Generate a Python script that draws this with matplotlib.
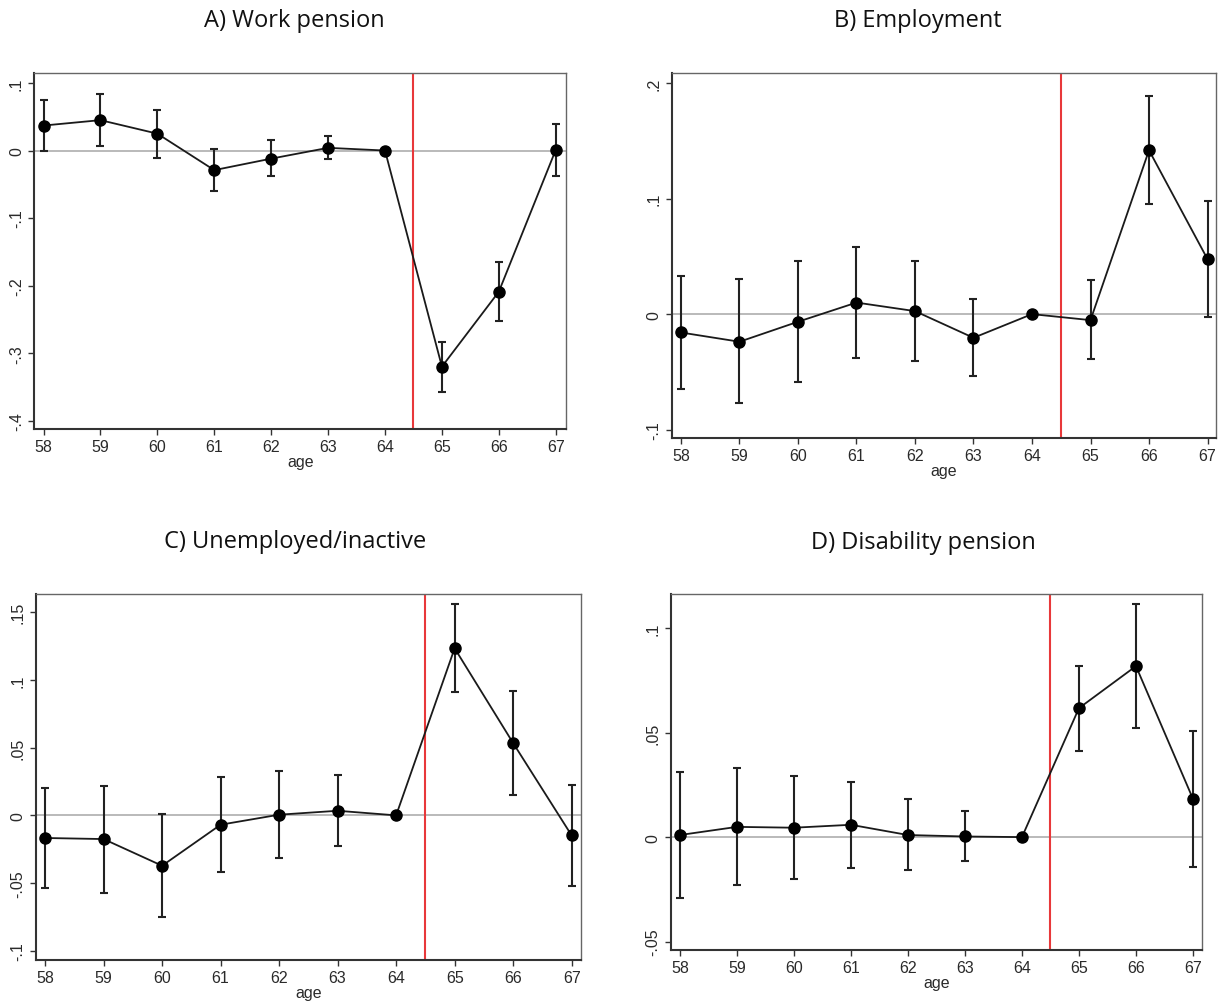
import matplotlib
matplotlib.use("Agg")
import matplotlib.pyplot as plt
import numpy as np

ages = [58, 59, 60, 61, 62, 63, 64, 65, 66, 67]

# A) Work pension
wp_est = [0.037, 0.045, 0.025, -0.029, -0.012, 0.004, 0.0, -0.320, -0.209, 0.001]
wp_hi = [0.075, 0.083, 0.060, 0.003, 0.015, 0.022, 0.0, -0.283, -0.165, 0.040]
wp_lo = [0.000, 0.006, -0.011, -0.060, -0.037, -0.013, 0.0, -0.357, -0.252, -0.038]

# B) Employment
em_est = [-0.0159, -0.0239, -0.0066, 0.0100, 0.0026, -0.0205, 0.0, -0.0052, 0.1418, 0.0476]
em_hi = [0.0334, 0.0300, 0.0460, 0.0585, 0.0464, 0.0135, 0.0, 0.0297, 0.1888, 0.0980]
em_lo = [-0.0648, -0.0772, -0.0590, -0.0380, -0.0406, -0.0539, 0.0, -0.0390, 0.0951, -0.0023]

# C) Unemployed/inactive
un_est = [-0.0167, -0.0175, -0.0372, -0.0069, 0.0005, 0.0034, 0.0, 0.1234, 0.0534, -0.0148]
un_hi = [0.0200, 0.0219, 0.0012, 0.0281, 0.0325, 0.0296, 0.0, 0.1562, 0.0921, 0.0222]
un_lo = [-0.0540, -0.0574, -0.0754, -0.0416, -0.0313, -0.0224, 0.0, 0.0909, 0.0150, -0.0520]

# D) Disability pension
di_est = [0.0010, 0.0049, 0.0045, 0.0059, 0.0010, 0.0003, 0.0, 0.0617, 0.0818, 0.0183]
di_hi = [0.0311, 0.0330, 0.0292, 0.0266, 0.0180, 0.0126, 0.0, 0.0819, 0.1117, 0.0510]
di_lo = [-0.0290, -0.0230, -0.0202, -0.0147, -0.0158, -0.0116, 0.0, 0.0411, 0.0521, -0.0143]

titles = ["A) Work pension", "B) Employment", "C) Unemployed/inactive", "D) Disability pension"]
yticks_list = [[0.1, 0, -0.1, -0.2, -0.3, -0.4], [0.2, 0.1, 0, -0.1],
               [0.15, 0.1, 0.05, 0, -0.05, -0.1], [0.1, 0.05, 0, -0.05]]
yticklabels_list = [[".1", "0", "-.1", "-.2", "-.3", "-.4"], [".2", ".1", "0", "-.1"],
                    [".15", ".1", ".05", "0", "-.05", "-.1"], [".1", ".05", "0", "-.05"]]
ylims = [(-0.4123, 0.1148), (-0.1072, 0.2084), (-0.1066, 0.1635), (-0.054, 0.1163)]
xlims = [(57.84, 67.18), (57.84, 67.145), (57.836, 67.16), (57.84, 67.155)]
cutoff = 64.5

W, H = 1220, 1004
fig = plt.figure(figsize=(W / 100, H / 100), dpi=100)

# axes boxes in pixels: left, top, right, bottom
boxes = [(34.4, 74, 566, 430), (671.6, 74.3, 1216, 439),
         (35.5, 595, 581, 960.7), (670.8, 595, 1201.8, 951)]
title_pos = [(294, 21), (918, 21), (295, 542), (923, 543)]

data = [(wp_est, wp_lo, wp_hi), (em_est, em_lo, em_hi), (un_est, un_lo, un_hi), (di_est, di_lo, di_hi)]

tickfont = "Liberation Sans"
tc = "#2a2a2a"
for i in range(4):
    l, t, r, b = boxes[i]
    ax = fig.add_axes([l / W, 1 - b / H, (r - l) / W, (b - t) / H])
    est, lo, hi = [np.array(v) for v in data[i]]
    x = np.array(ages)
    ax.axhline(0, color="#b4b4b4", lw=1.3, zorder=1)
    ax.axvline(cutoff, color="#e8383a", lw=1.5, zorder=2)
    mask = ~((lo == 0) & (hi == 0))
    ax.errorbar(x[mask], est[mask], yerr=[est[mask] - lo[mask], hi[mask] - est[mask]],
                fmt="none", ecolor="#222222", elinewidth=1.5, capsize=3.0, capthick=1.5, zorder=3)
    ax.plot(x, est, color="#1a1a1a", lw=1.3, marker="o", markersize=8,
            markerfacecolor="black", markeredgecolor="black", zorder=4)
    ax.set_xlim(*xlims[i])
    ax.set_ylim(*ylims[i])
    ax.set_xticks(ages)
    ax.set_xticklabels([str(a) for a in ages], fontsize=11.5, family=tickfont, color=tc)
    ax.set_yticks(yticks_list[i])
    ax.set_yticklabels(yticklabels_list[i], fontsize=11.5, family=tickfont, color=tc,
                       rotation=90, va="center")
    ax.tick_params(axis="both", length=4, width=1.0, color="#333333", pad=3.5)
    ax.set_xlabel("age", fontsize=11.5, family=tickfont, color=tc, labelpad=0)
    for s in ["left", "bottom"]:
        ax.spines[s].set_color("#333333")
        ax.spines[s].set_linewidth(1.5)
    for s in ["top", "right"]:
        ax.spines[s].set_color("#666666")
        ax.spines[s].set_linewidth(1.0)
    tx, ty = title_pos[i]
    fig.text(tx / W, 1 - ty / H, titles[i], ha="center", va="center",
             fontsize=17, family="Open Sans", color="#111111")

fig.savefig("out.png", dpi=100, facecolor="white")
